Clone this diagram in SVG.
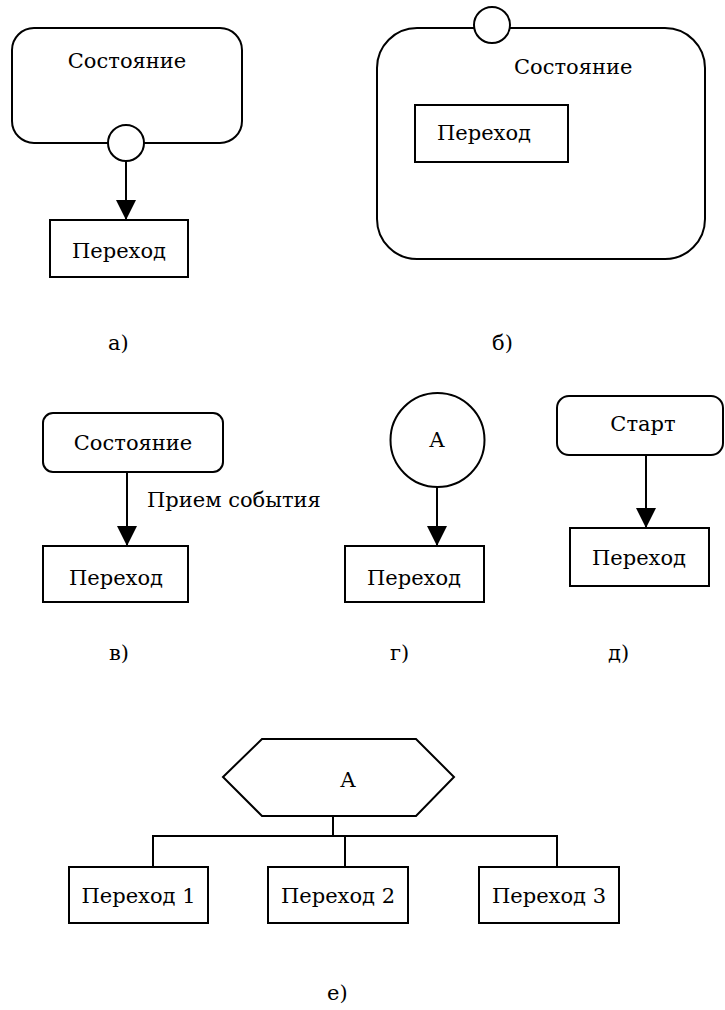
<svg xmlns="http://www.w3.org/2000/svg" width="725" height="1010" viewBox="0 0 725 1010">
  <defs>
    <marker id="arrow" markerWidth="20" markerHeight="20" refX="20" refY="10" orient="auto" markerUnits="userSpaceOnUse">
      <path d="M0,0 L20,10 L0,20 Z" fill="#000"/>
    </marker>
    <style>
      .shape { fill: #fff; stroke: #000; stroke-width: 2; }
      .line { fill: none; stroke: #000; stroke-width: 2; }
      .arr { fill: none; stroke: #000; stroke-width: 2; marker-end: url(#arrow); }
      text { font-family: "DejaVu Serif", "Liberation Serif", serif; font-size: 21px; fill: #000; }
      .c { text-anchor: middle; }
    </style>
  </defs>
  <rect width="725" height="1010" fill="#fff"/>

  <!-- connectors -->
  <g id="connectors">
    <line class="arr" x1="126" y1="161" x2="126" y2="220"/>
    <line class="arr" x1="492" y1="43" x2="492" y2="105"/>
    <line class="arr" x1="127" y1="472" x2="127" y2="546"/>
    <line class="arr" x1="437" y1="487" x2="437" y2="546"/>
    <line class="arr" x1="646" y1="455" x2="646" y2="528"/>
    <path class="line" d="M333,816 V836 M153,867 V836 H557 V867 M345,836 V867"/>
  </g>

  <!-- a) -->
  <g id="state-a">
    <rect class="shape" x="12" y="28" width="230" height="115" rx="22"/>
    <text class="c" x="127" y="68">Состояние</text>
  </g>
  <g id="exit-a">
    <circle class="shape" cx="126" cy="143" r="18"/>
  </g>
  <g id="transition-a">
    <rect class="shape" x="50" y="220" width="138" height="57"/>
    <text class="c" x="119" y="258">Переход</text>
  </g>
  <text id="label-a" x="108" y="350">а)</text>

  <!-- б) -->
  <g id="state-b">
    <rect class="shape" x="377" y="28" width="328" height="231" rx="40"/>
    <text x="514" y="74">Состояние</text>
  </g>
  <g id="entry-b">
    <circle class="shape" cx="492" cy="25" r="18"/>
  </g>
  <g id="transition-b">
    <rect class="shape" x="415" y="105" width="153" height="57"/>
    <text x="437" y="140">Переход</text>
  </g>
  <text id="label-b" x="492" y="350">б)</text>

  <!-- в) -->
  <g id="state-v">
    <rect class="shape" x="43" y="413" width="180" height="59" rx="10"/>
    <text class="c" x="133" y="450">Состояние</text>
  </g>
  <text id="event-v" x="147" y="507">Прием события</text>
  <g id="transition-v">
    <rect class="shape" x="43" y="546" width="145" height="56"/>
    <text class="c" x="116" y="585">Переход</text>
  </g>
  <text id="label-v" x="109" y="660">в)</text>

  <!-- г) -->
  <g id="node-g">
    <circle class="shape" cx="437.5" cy="440" r="47"/>
    <text class="c" x="437" y="447">А</text>
  </g>
  <g id="transition-g">
    <rect class="shape" x="345" y="546" width="139" height="56"/>
    <text class="c" x="414" y="585">Переход</text>
  </g>
  <text id="label-g" x="390" y="660">г)</text>

  <!-- д) -->
  <g id="start-d">
    <rect class="shape" x="557" y="396" width="166" height="59" rx="12"/>
    <text class="c" x="643" y="431">Старт</text>
  </g>
  <g id="transition-d">
    <rect class="shape" x="570" y="528" width="139" height="58"/>
    <text class="c" x="639" y="565">Переход</text>
  </g>
  <text id="label-d" x="608" y="660">д)</text>

  <!-- е) -->
  <g id="switch-e">
    <polygon class="shape" points="223,777 262,739 416,739 454,777 416,816 262,816"/>
    <text class="c" x="348" y="787">А</text>
  </g>
  <g id="transition-e1">
    <rect class="shape" x="69" y="867" width="139" height="56"/>
    <text class="c" x="138.5" y="903">Переход 1</text>
  </g>
  <g id="transition-e2">
    <rect class="shape" x="268" y="867" width="140" height="56"/>
    <text class="c" x="338" y="903">Переход 2</text>
  </g>
  <g id="transition-e3">
    <rect class="shape" x="479" y="867" width="140" height="56"/>
    <text class="c" x="549" y="903">Переход 3</text>
  </g>
  <text id="label-e" x="327" y="1000">е)</text>
</svg>
